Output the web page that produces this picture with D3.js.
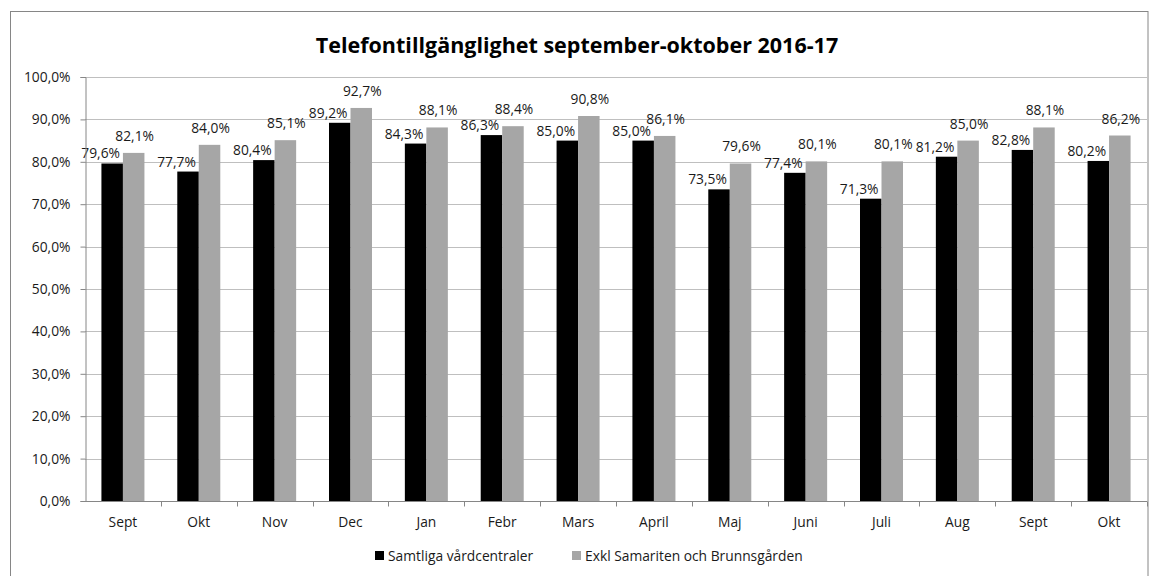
<!DOCTYPE html>
<html>
<head>
<meta charset="utf-8">
<script src="https://cdn.jsdelivr.net/npm/d3@7"></script>
<style>
  body { margin: 0; background: #fff; }
  svg { display: block; font-family: "Open Sans", "Liberation Sans", sans-serif; }
  .tick text { fill: #1a1a1a; }
</style>
</head>
<body>
<div id="chart"></div>
<script>
// ---------------------------------------
// data
const months = ["Sept", "Okt", "Nov", "Dec", "Jan", "Febr", "Mars", "April", "Maj", "Juni", "Juli", "Aug", "Sept ", "Okt "];
const seriesNames = ["Samtliga vårdcentraler", "Exkl Samariten och Brunnsgården"];
const samtliga = [79.6, 77.7, 80.4, 89.2, 84.3, 86.3, 85.0, 85.0, 73.5, 77.4, 71.3, 81.2, 82.8, 80.2];
const exkl = [82.1, 84.0, 85.1, 92.7, 88.1, 88.4, 90.8, 86.1, 79.6, 80.1, 80.1, 85.0, 88.1, 86.2];
const yTicks = [0, 10, 20, 30, 40, 50, 60, 70, 80, 90, 100];
const colors = ["#000000", "#a6a6a6"];

// ---------------------------------------
// svg params
const W = 1152, H = 576;
const margin = {top: 77, right: 5, bottom: 75, left: 85};
const fs = 13.8; // general font size

const svg = d3.select("#chart")
    .append("svg")
    .attr("width", W)
    .attr("height", H);

// outer border
svg.append("rect")
    .attr("x", 10.5).attr("y", 11.5)
    .attr("width", 1137.5).attr("height", 570)
    .attr("fill", "none")
    .attr("stroke", "#868686");

// title
svg.append("text")
    .attr("x", 577).attr("y", 53)
    .attr("text-anchor", "middle")
    .attr("font-weight", "bold")
    .attr("font-size", 21.5)
    .attr("fill", "#000")
    .text("Telefontillgänglighet september-oktober 2016-17");

// scales
const x0 = d3.scaleBand()
    .domain(months)
    .range([margin.left, 1147]);

const x1 = d3.scaleBand()
    .domain([0, 1])
    .range([0, x0.bandwidth()])
    .paddingOuter(0.764);

const y = d3.scaleLinear()
    .domain([0, 100])
    .range([501, margin.top]);

const fmt = v => d3.format(".1f")(v).replace(".", ",") + "%";

// gridlines
svg.append("g")
    .selectAll("line")
    .data(yTicks.slice(1))
    .join("line")
    .attr("x1", margin.left).attr("x2", 1147)
    .attr("y1", d => Math.round(y(d)) + 0.5)
    .attr("y2", d => Math.round(y(d)) + 0.5)
    .attr("stroke", "#bfbfbf");

// bars
const data = months.map((m, i) => ({m: m, vals: [samtliga[i], exkl[i]]}));

const grp = svg.append("g")
    .selectAll("g")
    .data(data)
    .join("g")
    .attr("transform", d => `translate(${x0(d.m)},0)`);

grp.selectAll("rect")
    .data(d => d.vals.map((v, k) => ({k: k, v: v})))
    .join("rect")
    .attr("x", d => x1(d.k))
    .attr("width", x1.bandwidth())
    .attr("y", d => y(d.v))
    .attr("height", d => y(0) - y(d.v))
    .attr("fill", d => colors[d.k]);

// value labels (black ones sit left, grey ones centred and a bit higher)
grp.selectAll("text")
    .data(d => d.vals.map((v, k) => ({k: k, v: v})))
    .join("text")
    .attr("x", d => d.k === 0 ? x1(d.k) + x1.bandwidth() - 3 : x1(d.k) + x1.bandwidth() / 2 + 1)
    .attr("y", d => y(d.v) - (d.k === 0 ? 5 : 12))
    .attr("text-anchor", d => d.k === 0 ? "end" : "middle")
    .attr("font-size", fs)
    .attr("fill", "#1a1a1a")
    .text(d => fmt(d.v));

// y axis
const yAxis = svg.append("g")
    .attr("transform", `translate(${margin.left + 0.5},0)`)
    .call(d3.axisLeft(y).tickValues(yTicks).tickSize(5).tickPadding(10).tickFormat(fmt));
yAxis.select(".domain").attr("stroke", "#868686");
yAxis.selectAll(".tick line").attr("stroke", "#868686");
yAxis.selectAll(".tick text").attr("font-size", fs).attr("font-family", "Open Sans");

// x axis with ticks at category boundaries
const xAxis = svg.append("g")
    .attr("transform", "translate(0,501.5)");
xAxis.append("line")
    .attr("x1", margin.left).attr("x2", 1147)
    .attr("stroke", "#868686");
xAxis.selectAll(".bnd")
    .data(months)
    .join("line")
    .attr("class", "bnd")
    .attr("x1", d => Math.round(x0(d) + x0.bandwidth()) + 0.5)
    .attr("x2", d => Math.round(x0(d) + x0.bandwidth()) + 0.5)
    .attr("y1", 0).attr("y2", 5)
    .attr("stroke", "#868686");
xAxis.selectAll(".lbl")
    .data(months)
    .join("text")
    .attr("class", "lbl")
    .attr("x", d => x0(d) + x0.bandwidth() / 2)
    .attr("y", 25)
    .attr("text-anchor", "middle")
    .attr("font-size", fs)
    .attr("fill", "#1a1a1a")
    .text(d => d.trim());

// legend
const legendX = [375, 572];
const leg = svg.append("g")
    .selectAll("g")
    .data(seriesNames)
    .join("g")
    .attr("transform", (d, i) => `translate(${legendX[i]},551)`);
leg.append("rect")
    .attr("width", 9).attr("height", 9)
    .attr("fill", (d, i) => colors[i]);
leg.append("text")
    .attr("x", 13).attr("y", 9.5)
    .attr("font-size", fs)
    .attr("fill", "#1a1a1a")
    .text(d => d);
</script>
</body>
</html>
